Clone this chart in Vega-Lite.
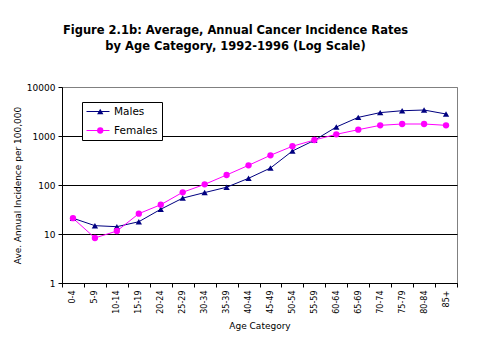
{
  "$schema": "https://vega.github.io/schema/vega-lite/v6.json",
  "width": 395,
  "height": 196,
  "autosize": {"type": "none"},
  "padding": {"left": 62, "top": 87, "right": 22, "bottom": 76},
  "background": "white",
  "title": {
    "text": ["Figure 2.1b: Average, Annual Cancer Incidence Rates", "by Age Category, 1992-1996 (Log Scale)"],
    "anchor": "middle",
    "frame": "group",
    "dx": -24,
    "offset": 31,
    "font": "DejaVu Sans",
    "fontSize": 11.5,
    "fontWeight": "bold",
    "lineHeight": 16,
    "color": "black"
  },
  "config": {
    "font": "DejaVu Sans",
    "view": {"stroke": "#808080", "strokeWidth": 1}
  },
  "data": {
    "values": [
      {"age": "0-4", "series": "Males", "rate": 21},
      {"age": "5-9", "series": "Males", "rate": 14.8},
      {"age": "10-14", "series": "Males", "rate": 14.1},
      {"age": "15-19", "series": "Males", "rate": 17.8},
      {"age": "20-24", "series": "Males", "rate": 32},
      {"age": "25-29", "series": "Males", "rate": 54},
      {"age": "30-34", "series": "Males", "rate": 70},
      {"age": "35-39", "series": "Males", "rate": 90},
      {"age": "40-44", "series": "Males", "rate": 137},
      {"age": "45-49", "series": "Males", "rate": 222},
      {"age": "50-54", "series": "Males", "rate": 494},
      {"age": "55-59", "series": "Males", "rate": 817},
      {"age": "60-64", "series": "Males", "rate": 1526},
      {"age": "65-69", "series": "Males", "rate": 2400},
      {"age": "70-74", "series": "Males", "rate": 3000},
      {"age": "75-79", "series": "Males", "rate": 3280},
      {"age": "80-84", "series": "Males", "rate": 3390},
      {"age": "85+", "series": "Males", "rate": 2810},
      {"age": "0-4", "series": "Females", "rate": 21},
      {"age": "5-9", "series": "Females", "rate": 8.3},
      {"age": "10-14", "series": "Females", "rate": 11.5},
      {"age": "15-19", "series": "Females", "rate": 26},
      {"age": "20-24", "series": "Females", "rate": 39.6},
      {"age": "25-29", "series": "Females", "rate": 71},
      {"age": "30-34", "series": "Females", "rate": 103},
      {"age": "35-39", "series": "Females", "rate": 160},
      {"age": "40-44", "series": "Females", "rate": 252},
      {"age": "45-49", "series": "Females", "rate": 404},
      {"age": "50-54", "series": "Females", "rate": 617},
      {"age": "55-59", "series": "Females", "rate": 828},
      {"age": "60-64", "series": "Females", "rate": 1082},
      {"age": "65-69", "series": "Females", "rate": 1346},
      {"age": "70-74", "series": "Females", "rate": 1650},
      {"age": "75-79", "series": "Females", "rate": 1757},
      {"age": "80-84", "series": "Females", "rate": 1757},
      {"age": "85+", "series": "Females", "rate": 1650}
    ]
  },
  "encoding": {
    "x": {
      "field": "age",
      "type": "ordinal",
      "sort": null,
      "scale": {"type": "band", "paddingInner": 0, "paddingOuter": 0},
      "axis": {
        "title": "Age Category",
        "titleFontSize": 9,
        "titleFontWeight": "normal",
        "titleColor": "black",
        "titlePadding": 8,
        "labelAngle": -90,
        "labelFontSize": 8,
        "labelColor": "black",
        "labelPadding": 3,
        "tickBand": "extent",
        "tickSize": 4,
        "tickColor": "black",
        "domainColor": "black",
        "grid": false
      }
    },
    "y": {
      "field": "rate",
      "type": "quantitative",
      "scale": {"type": "log", "domain": [1, 10000], "nice": false},
      "axis": {
        "title": "Ave. Annual Incidence per 100,000",
        "titleFontSize": 9,
        "titleFontWeight": "normal",
        "titleColor": "black",
        "titlePadding": 4,
        "values": [1, 10, 100, 1000, 10000],
        "format": "d",
        "labelFontSize": 9,
        "labelColor": "black",
        "labelPadding": 3,
        "tickSize": 4,
        "tickColor": "black",
        "domainColor": "black",
        "grid": true,
        "gridColor": {"condition": {"test": "datum.value >= 10000", "value": "#808080"}, "value": "black"},
        "gridOpacity": 1
      }
    }
  },
  "layer": [
    {
      "mark": {"type": "line", "strokeWidth": 1},
      "encoding": {
        "stroke": {
          "field": "series",
          "type": "nominal",
          "scale": {"domain": ["Males", "Females"], "range": ["#000080", "#FF00FF"]},
          "legend": {
            "orient": "none",
            "legendX": 20,
            "legendY": 15,
            "zindex": 0,
            "title": null,
            "strokeColor": "black",
            "fillColor": "white",
            "padding": 4,
            "symbolType": "stroke",
            "symbolSize": 529,
            "symbolStrokeWidth": 1,
            "clipHeight": 11,
            "rowPadding": 8,
            "labelFontSize": 10.5,
            "labelColor": "black",
            "labelOffset": 4
          }
        }
      }
    },
    {
      "mark": {"type": "point", "filled": true, "opacity": 1, "size": 40},
      "encoding": {
        "color": {
          "field": "series",
          "type": "nominal",
          "sort": "descending",
          "scale": {"range": ["#000080", "#FF00FF"]},
          "legend": {
            "orient": "none",
            "legendX": 20,
            "legendY": 15,
            "zindex": 1,
            "title": null,
            "padding": 4,
            "symbolSize": 40,
            "symbolStrokeWidth": 0,
            "symbolOffset": 9,
            "clipHeight": 11,
            "rowPadding": 8,
            "labelFontSize": 10.5,
            "labelExpr": "''",
            "labelOffset": 3
          }
        },
        "shape": {
          "field": "series",
          "type": "nominal",
          "sort": "descending",
          "scale": {"range": ["triangle-up", "circle"]},
          "legend": {
            "orient": "none",
            "legendX": 20,
            "legendY": 15,
            "zindex": 1,
            "title": null,
            "padding": 4,
            "symbolSize": 40,
            "symbolStrokeWidth": 0,
            "symbolOffset": 9,
            "clipHeight": 11,
            "rowPadding": 8,
            "labelFontSize": 10.5,
            "labelExpr": "''",
            "labelOffset": 3
          }
        }
      }
    }
  ]
}
